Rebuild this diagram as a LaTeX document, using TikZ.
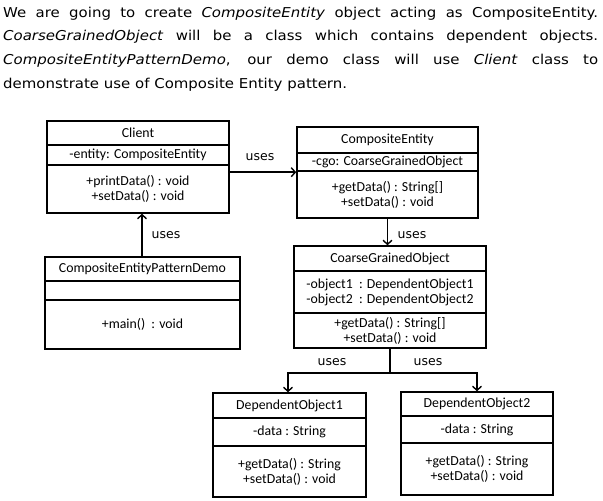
\documentclass[tikz,border=0pt]{standalone}
\usepackage{fontspec}
\setmainfont{DejaVu Sans}
\newfontfamily\introfont[FakeStretch=1.1]{DejaVu Sans}
\newfontfamily\boxfont{Carlito}
\usetikzlibrary{arrows.meta}
\tikzset{
  cls/.style={draw, line width=1.6pt, inner sep=0pt, align=center,
    font=\boxfont\fontsize{13.8}{15}\selectfont},
  uses/.style={line width=1.6pt, -{Straight Barb[length=4pt,width=9pt,line width=1.4pt]}},
  lbl/.style={font=\fontsize{12.5}{14}\selectfont}
}
\begin{document}
\begin{tikzpicture}[x=1pt, y=-1pt]
			%%%%% START %%%%%
			\useasboundingbox[fill=white] (0, 0) rectangle (603, 501);
			
			\node[anchor=north west, inner sep=0pt, text width=595pt, align=justify,
			  font=\introfont\fontsize{13.6}{23.7}\selectfont] (intro) at (3, 6.5)
			  {We are going to create \textit{CompositeEntity} object acting as CompositeEntity.\linebreak
			   \textit{CoarseGrainedObject} will be a class which contains dependent objects.\linebreak
			   \textit{CompositeEntityPatternDemo}, our demo class will use \textit{Client} class to\linebreak
			   demonstrate use of Composite Entity pattern.};
			
			% Client
			\node[cls, minimum width=182pt, minimum height=24pt] (cl1) at (138, 133) {Client};
			\node[cls, minimum width=182pt, minimum height=20pt] (cl2) at (138, 155) {-entity: CompositeEntity};
			\node[cls, minimum width=182pt, minimum height=48pt] (cl3) at (138, 189) {+printData() : void\\+setData() : void};
			
			% CompositeEntity
			\node[cls, minimum width=181pt, minimum height=26pt] (ce1) at (387.5, 140) {CompositeEntity};
			\node[cls, minimum width=181pt, minimum height=18pt] (ce2) at (387.5, 162) {-cgo: CoarseGrainedObject};
			\node[cls, minimum width=181pt, minimum height=47pt] (ce3) at (387.5, 194.5) {+getData() : String[]\\+setData() : void};
			
			% CompositeEntityPatternDemo
			\node[cls, minimum width=195pt, minimum height=24pt] (dm1) at (142.5, 269) {CompositeEntityPatternDemo};
			\node[cls, minimum width=195pt, minimum height=19pt] (dm2) at (142.5, 290.5) {};
			\node[cls, minimum width=195pt, minimum height=49pt] (dm3) at (142.5, 324.5) {+main()\ \ : void};
			
			% CoarseGrainedObject
			\node[cls, minimum width=192pt, minimum height=25pt] (cgo1) at (390, 258.5) {CoarseGrainedObject};
			\node[cls, minimum width=192pt, minimum height=42pt] (cgo2) at (390, 292) {-object1\ \ : DependentObject1\\-object2\ \ : DependentObject2};
			\node[cls, minimum width=192pt, minimum height=35pt] (cgo3) at (390, 330.5) {+getData() : String[]\\+setData() : void};
			
			% DependentObject1
			\node[cls, minimum width=153pt, minimum height=25pt] (do1a) at (289.5, 405.5) {DependentObject1};
			\node[cls, minimum width=153pt, minimum height=28pt] (do1b) at (289.5, 432) {-data : String};
			\node[cls, minimum width=153pt, minimum height=51pt] (do1c) at (289.5, 471.5) {+getData() : String\\+setData() : void};
			
			% DependentObject2
			\node[cls, minimum width=152pt, minimum height=24pt] (do2a) at (477, 404) {DependentObject2};
			\node[cls, minimum width=152pt, minimum height=27pt] (do2b) at (477, 429.5) {-data : String};
			\node[cls, minimum width=152pt, minimum height=52pt] (do2c) at (477, 469) {+getData() : String\\+setData() : void};
			
			% connectors
			\draw[uses] ([yshift=-8pt]cl3.north east) -- ([yshift=-2pt]ce3.north west);
			\node[lbl] (u1) at (260, 157) {uses};
			
			\draw[uses] ([xshift=-0.5pt]dm1.north) -- ([xshift=-0.5pt]dm1.north |- cl3.south);
			\node[lbl] (u2) at (166, 235) {uses};
			
			\draw[uses] (ce3.south) -- (ce3.south |- cgo1.north);
			\node[lbl] (u3) at (412, 235) {uses};
			
			\coordinate (split) at ([yshift=-24pt]cgo3.south);
			\draw[uses] (cgo3.south) -- (split) -| ([xshift=-1.5pt]do1a.north);
			\draw[uses] (split) -| (do2a.north);
			\node[lbl] (u4) at (332, 362) {uses};
			\node[lbl] (u5) at (428, 362) {uses};
			
			%%%%% END %%%%%
\end{tikzpicture}
\end{document}
